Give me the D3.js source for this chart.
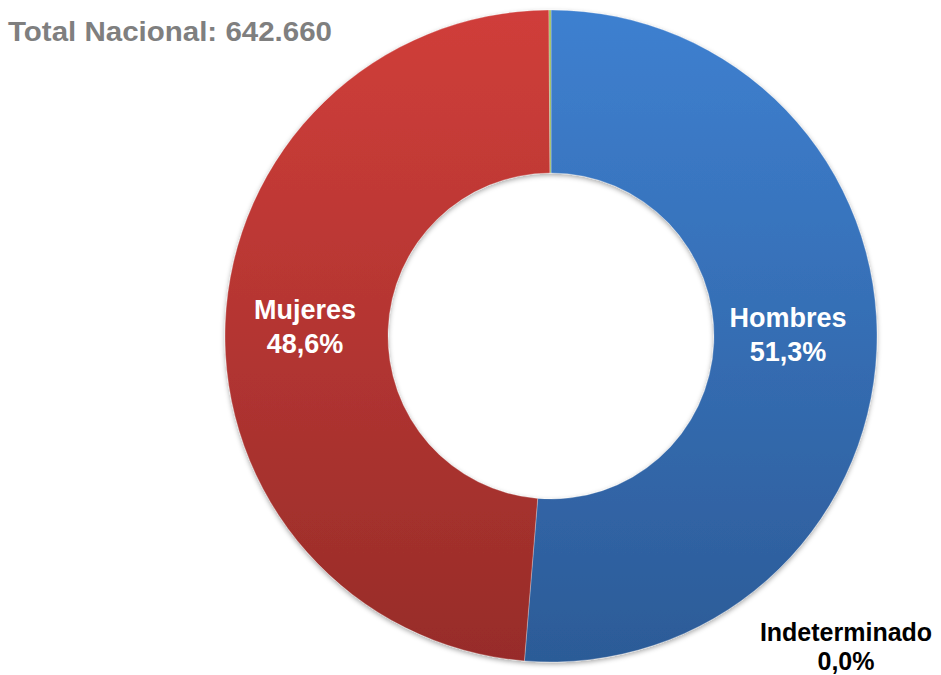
<!DOCTYPE html>
<html>
<head>
<meta charset="utf-8">
<script src="https://cdn.jsdelivr.net/npm/d3@7"></script>
<style>
  body { margin: 0; background: #fff; }
  svg { display: block; font-family: "Liberation Sans", Arial, sans-serif; font-weight: bold; }
</style>
</head>
<body>
<svg id="viz" width="941" height="675"></svg>
<script>
var width = 941, height = 675

// data
var categories = ['Hombres', 'Mujeres', 'Indeterminado']
var values = [51.3, 48.6, 0.1]
var labels = ['51,3%', '48,6%', '0,0%']
var title = 'Total Nacional: 642.660'

var cx = 551, cy = 336
var outerR = 326, innerR = 163

var svg = d3.select('svg#viz')
var defs = svg.append('defs')

// gradient is in the donut group's coords (origin at the centre)
function addGradient(id, top, bottom) {
  var g = defs.append('linearGradient').attr('id', id)
    .attr('gradientUnits', 'userSpaceOnUse')
    .attr('x1', 0).attr('y1', -outerR).attr('x2', 0).attr('y2', outerR)
  g.append('stop').attr('offset', '0%').attr('stop-color', top)
  g.append('stop').attr('offset', '100%').attr('stop-color', bottom)
}
addGradient('gBlue', '#3e80d0', '#2c5b97')
addGradient('gRed', '#d03e3a', '#972c29')
addGradient('gGreen', '#9bbb59', '#76923c')
var fills = ['url(#gBlue)', 'url(#gRed)', 'url(#gGreen)']

var shadow = defs.append('filter').attr('id', 'shadow')
  .attr('x', '-10%').attr('y', '-10%').attr('width', '120%').attr('height', '120%')
shadow.append('feDropShadow').attr('dx', 0).attr('dy', 2).attr('stdDeviation', 2.5)
  .attr('flood-color', '#000').attr('flood-opacity', 0.35)

var pie = d3.pie().sort(null).value(function(d) { return d })
var arc = d3.arc().innerRadius(innerR).outerRadius(outerR)

var arcs = pie(values)

var g = svg.append('g').attr('transform', 'translate(' + cx + ',' + cy + ')')
g.append('g').attr('filter', 'url(#shadow)')
  .selectAll('path')
  .data(arcs)
  .enter()
  .append('path')
  .attr('d', arc)
  .attr('fill', function(d, i) { return fills[i] })
  .attr('stroke', 'rgba(255,255,255,0.35)')
  .attr('stroke-width', 0.8)

// labels (page coords)
var labelPos = [
  {x: 788, y: 327, color: '#fff', size: 27, lead: 34},
  {x: 305, y: 319, color: '#fff', size: 27, lead: 34},
  {x: 846, y: 641, color: '#000', size: 25, lead: 29}
]

var lab = svg.append('g').selectAll('text')
  .data(categories)
  .enter()
  .append('text')
  .attr('text-anchor', 'middle')
  .attr('x', function(d, i) { return labelPos[i].x })
  .attr('y', function(d, i) { return labelPos[i].y })
  .attr('fill', function(d, i) { return labelPos[i].color })
  .style('font-size', function(d, i) { return labelPos[i].size + 'px' })

lab.append('tspan').text(function(d) { return d })
lab.append('tspan')
  .attr('x', function(d, i) { return labelPos[i].x })
  .attr('dy', function(d, i) { return labelPos[i].lead + 'px' })
  .text(function(d, i) { return labels[i] })

svg.append('text')
  .attr('x', 8).attr('y', 41)
  .attr('fill', '#7f7f7f')
  .style('font-size', '27px')
  .attr('textLength', 324)
  .attr('lengthAdjust', 'spacingAndGlyphs')
  .text(title)
</script>
</body>
</html>
